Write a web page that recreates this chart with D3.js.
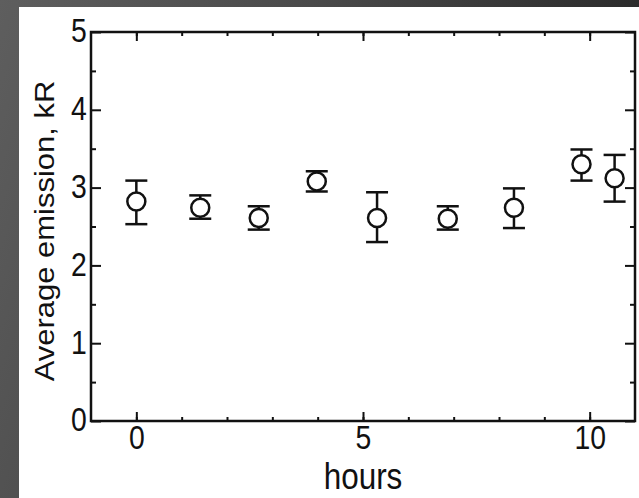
<!DOCTYPE html>
<html>
<head>
<meta charset="utf-8">
<script src="https://cdn.jsdelivr.net/npm/d3@7"></script>
<style>
  html, body { margin: 0; padding: 0; background: #333; }
  svg { display: block; }
  text { font-family: "Liberation Sans", Arial, sans-serif; fill: #111; }
</style>
</head>
<body>
<svg id="chart" width="639" height="498"></svg>
<script>
// data
const hours = [0, 1.41, 2.70, 3.98, 5.31, 6.87, 8.33, 9.82, 10.55];
const emission = [2.82, 2.74, 2.61, 3.08, 2.61, 2.60, 2.74, 3.30, 3.12];
const errLow = [2.53, 2.60, 2.46, 2.95, 2.30, 2.46, 2.48, 3.09, 2.82];
const errHigh = [3.09, 2.90, 2.76, 3.21, 2.94, 2.76, 2.99, 3.49, 3.42];

const xMajor = [0, 5, 10];
const xMinor = d3.range(0, 11, 1);
const yMajor = [0, 1, 2, 3, 4, 5];
const yMinor = d3.range(0.5, 5, 1);

const xLabel = "hours";
const yLabel = "Average emission, kR";

const svg = d3.select("#chart");
const W = 639, H = 498;

// gradient backdrop behind the white panel
const defs = svg.append("defs");
const grad = defs.append("linearGradient")
  .attr("id", "bg")
  .attr("x1", "0%").attr("y1", "0%")
  .attr("x2", "100%").attr("y2", "30%");
grad.append("stop").attr("offset", "0%").attr("stop-color", "#5e5e5e");
grad.append("stop").attr("offset", "45%").attr("stop-color", "#4a4a4a");
grad.append("stop").attr("offset", "100%").attr("stop-color", "#262626");

svg.append("rect").attr("width", W).attr("height", H).attr("fill", "url(#bg)");
svg.append("rect").attr("x", 19).attr("y", 7).attr("width", W - 19).attr("height", H - 7).attr("fill", "#fff");

// plot frame
const pLeft = 91, pRight = 635, pTop = 32, pBottom = 421;

const x = d3.scaleLinear().domain([-1, 11]).range([pLeft, pRight]);
const y = d3.scaleLinear().domain([0, 5]).range([pBottom, pTop]);

const fmt = d3.format("d");

// ticks pointing inward on all four sides
function addAxis(axis, tx, ty, labels) {
  const g = svg.append("g")
    .attr("transform", `translate(${tx},${ty})`)
    .call(axis);
  g.select(".domain").remove();
  g.selectAll(".tick line").attr("stroke", "#111").attr("stroke-width", 2);
  if (!labels) g.selectAll(".tick text").remove();
  return g;
}

addAxis(d3.axisBottom(x).tickValues(xMinor).tickSize(-4), 0, pBottom, false);
addAxis(d3.axisTop(x).tickValues(xMinor).tickSize(-4), 0, pTop, false);
addAxis(d3.axisTop(x).tickValues(xMajor).tickSize(-9), 0, pTop, false);
addAxis(d3.axisLeft(y).tickValues(yMinor).tickSize(-5), pLeft, 0, false);
addAxis(d3.axisRight(y).tickValues(yMinor).tickSize(-5), pRight, 0, false);
addAxis(d3.axisRight(y).tickValues(yMajor).tickSize(-10), pRight, 0, false);

const gx = addAxis(d3.axisBottom(x).tickValues(xMajor).tickSize(-9).tickPadding(5).tickFormat(fmt), 0, pBottom, true);
gx.selectAll(".tick text")
  .attr("font-size", 33)
  .attr("fill", "#111")
  .attr("transform", "scale(0.86,1)");

const gy = addAxis(d3.axisLeft(y).tickValues(yMajor).tickSize(-10).tickPadding(5).tickFormat(fmt), pLeft, 0, true);
gy.selectAll(".tick text")
  .attr("font-size", 33)
  .attr("fill", "#111")
  .attr("dy", "0.3em")
  .attr("transform", "scale(0.86,1)");

svg.append("rect")
  .attr("x", pLeft).attr("y", pTop)
  .attr("width", pRight - pLeft).attr("height", pBottom - pTop)
  .attr("fill", "none").attr("stroke", "#111").attr("stroke-width", 2.5);

// axis titles
svg.append("text")
  .attr("transform", `translate(${(pLeft + pRight) / 2},489) scale(0.85,1)`)
  .attr("text-anchor", "middle")
  .attr("font-size", 37)
  .text(xLabel);

svg.append("text")
  .attr("transform", `translate(54,231) rotate(-90) scale(1,0.92)`)
  .attr("text-anchor", "middle")
  .attr("font-size", 31)
  .text(yLabel);

// error bars and markers
const pts = hours.map((h, i) => ({ h: h, v: emission[i], lo: errLow[i], hi: errHigh[i] }));
const cap = 11;

const eb = svg.append("g").attr("stroke", "#111").attr("stroke-width", 2.5).attr("fill", "none");
pts.forEach(d => {
  eb.append("line").attr("x1", x(d.h)).attr("x2", x(d.h)).attr("y1", y(d.lo)).attr("y2", y(d.hi));
  eb.append("line").attr("x1", x(d.h) - cap).attr("x2", x(d.h) + cap).attr("y1", y(d.lo)).attr("y2", y(d.lo));
  eb.append("line").attr("x1", x(d.h) - cap).attr("x2", x(d.h) + cap).attr("y1", y(d.hi)).attr("y2", y(d.hi));
});

svg.selectAll(".pt")
  .data(pts)
  .enter().append("circle")
  .attr("class", "pt")
  .attr("cx", d => x(d.h))
  .attr("cy", d => y(d.v))
  .attr("r", 9)
  .attr("fill", "#fff")
  .attr("stroke", "#111")
  .attr("stroke-width", 2.5);
</script>
</body>
</html>
